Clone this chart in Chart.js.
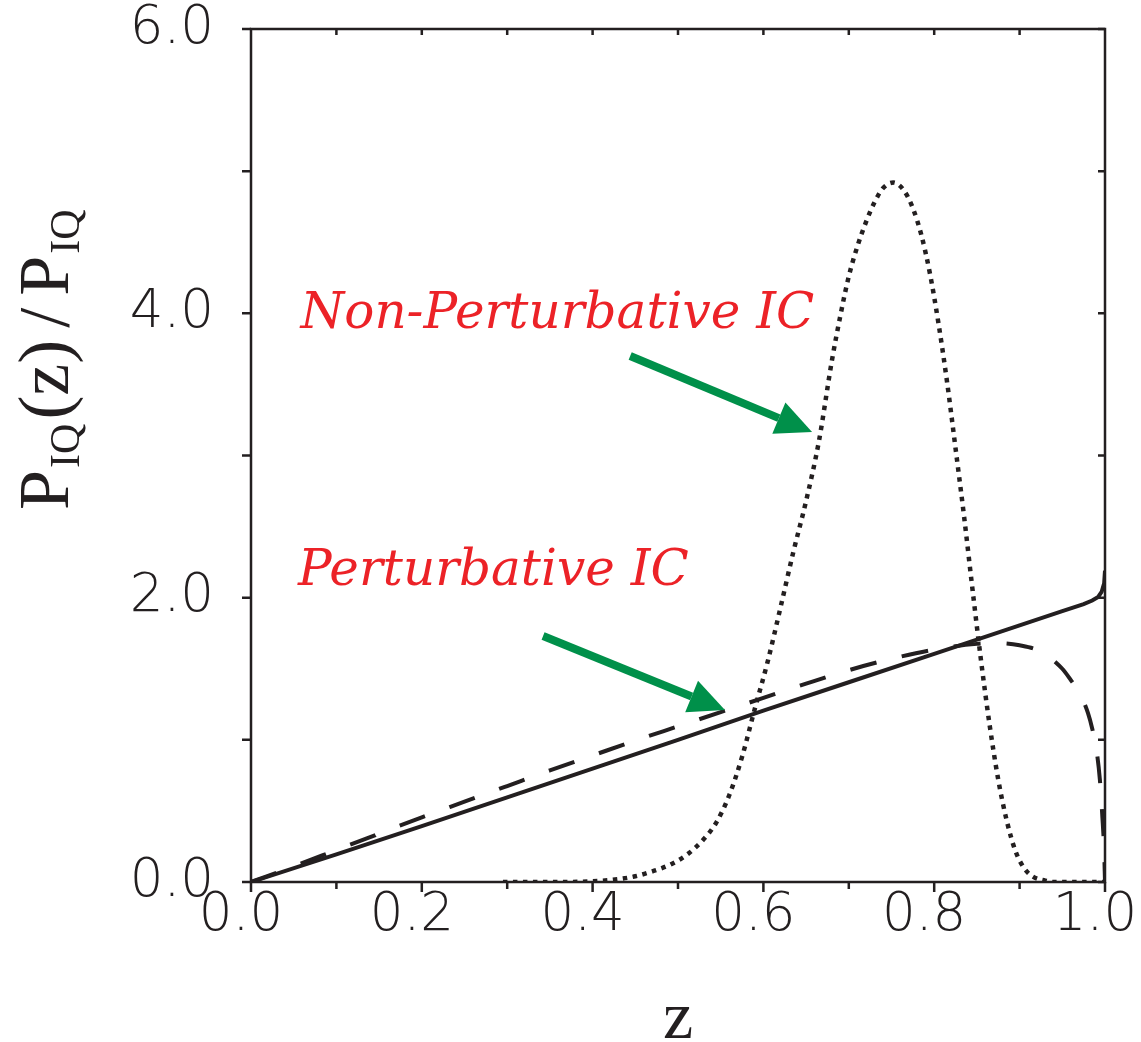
<!DOCTYPE html>
<html>
<head>
<meta charset="utf-8">
<title>P_IQ(z) / P_IQ</title>
<script src="https://cdn.jsdelivr.net/npm/chart.js@4.4.1/dist/chart.umd.min.js"></script>
<style>
    html, body { margin: 0; padding: 0; background: #ffffff; }
    #wrap { position: relative; width: 1141px; height: 1042px; }
    #chart { position: absolute; left: 0; top: 0; }
    .axis-title {
        position: absolute;
        font-family: 'Liberation Serif', 'Times New Roman', serif;
        font-weight: 300;
        font-synthesis: none;
        color: #231f20;
        line-height: 1;
        white-space: nowrap;
    }
    #xTitle { left: 628px; top: 981px; width: 100px; text-align: center; font-size: 68px; }
    #yTitle {
        left: 0; top: 0; font-size: 72px;
        transform-origin: 0 0;
        transform: translate(68px, 510px) rotate(-90deg) translate(0, -60px);
    }
    #yTitle .sub { font-size: 42px; vertical-align: -11px; margin-left: 2px; margin-right: 4px; }
    #yTitle .slash { margin: 0 12px; }
</style>
</head>
<body>
<div id="wrap">
    <canvas id="chart" width="1141" height="1042"></canvas>
    <div id="yTitle" class="axis-title">P<span class="sub">IQ</span>(z)<span class="slash">/</span>P<span class="sub">IQ</span></div>
    <div id="xTitle" class="axis-title">z</div>
</div>
<script>
(function () {
    'use strict';

    // perturbative intrinsic charm: straight rise with a kick at z -> 1
    var solidZ = [0, 0.1, 0.2, 0.3, 0.4, 0.5, 0.6, 0.7, 0.8, 0.9, 0.95, 0.975, 0.985, 0.992, 0.996, 0.999, 1.0];
    var solidP = [0, 0.195, 0.393, 0.595, 0.797, 1.0, 1.205, 1.405, 1.605, 1.805, 1.905, 1.955, 1.98, 2.005, 2.04, 2.10, 2.19];

    // dashed curve, turns over near z ~ 0.87 and drops to zero at z = 1
    var dashedZ = [0, 0.05, 0.1, 0.15, 0.2, 0.25, 0.3, 0.35, 0.4, 0.45, 0.5, 0.55, 0.6, 0.65, 0.7, 0.75, 0.8, 0.85, 0.875,
        0.9, 0.925, 0.95, 0.96, 0.97, 0.98, 0.985, 0.99, 0.994, 0.997, 0.999, 1.0];
    var dashedP = [0, 0.11, 0.225, 0.34, 0.455, 0.565, 0.675, 0.785, 0.89, 0.995, 1.095, 1.195, 1.295, 1.395, 1.49, 1.57, 1.635, 1.675, 1.68,
        1.665, 1.62, 1.50, 1.42, 1.33, 1.19, 1.08, 0.93, 0.72, 0.45, 0.22, 0.0];

    // non-perturbative peak around z ~ 0.75
    var dottedZ = [0.295, 0.35, 0.40, 0.43, 0.45, 0.47, 0.49, 0.51, 0.53, 0.545, 0.56, 0.575, 0.59, 0.605, 0.62, 0.635, 0.65, 0.665,
        0.68, 0.69, 0.70, 0.71, 0.72, 0.73, 0.74, 0.752, 0.765, 0.775, 0.785, 0.795, 0.805, 0.815, 0.825, 0.835, 0.845, 0.855,
        0.865, 0.875, 0.885, 0.895, 0.905, 0.915, 0.93, 0.94, 1.0];
    var dottedP = [0, 0, 0.005, 0.02, 0.04, 0.075, 0.12, 0.19, 0.30, 0.42, 0.61, 0.88, 1.22, 1.55, 1.93, 2.32, 2.68, 3.10,
        3.66, 3.98, 4.26, 4.47, 4.64, 4.78, 4.88, 4.92, 4.86, 4.74, 4.55, 4.28, 3.93, 3.52, 3.05, 2.57, 2.05, 1.55,
        1.10, 0.72, 0.43, 0.22, 0.10, 0.04, 0.01, 0, 0];

    var xMajorTicks = [0, 0.2, 0.4, 0.6, 0.8, 1.0];
    var xMinorTicks = [0.1, 0.3, 0.5, 0.7, 0.9];
    var yMajorTicks = [0, 2, 4, 6];
    var yMinorTicks = [1, 3, 5];

    // text labels with arrows, anchored in data units
    var labelTexts = ['Non-Perturbative IC', 'Perturbative IC'];
    var labelAt = [[0.058, 3.90], [0.055, 2.09]];
    var arrowFrom = [[0.444, 3.70], [0.342, 1.73]];
    var arrowTo = [[0.657, 3.165], [0.555, 1.21]];

    var INK = '#231f20';
    var RED = '#ec2227';
    var GREEN = '#00904a';
    var TICK_FONT = "'DejaVu Sans', sans-serif";

    function pairs(xs, ys) {
        var out = [];
        for (var i = 0; i < xs.length; i++) {
            out.push({ x: xs[i], y: ys[i] });
        }
        return out;
    }

    var framePlugin = {
        id: 'frame',
        afterDatasetsDraw: function (chart) {
            var ctx = chart.ctx;
            var a = chart.chartArea;
            var xs = chart.scales.x;
            var ys = chart.scales.y;
            var i, px, py;

            ctx.save();
            ctx.strokeStyle = INK;
            ctx.lineWidth = 2.5;
            ctx.lineCap = 'butt';
            ctx.strokeRect(a.left, a.top, a.right - a.left, a.bottom - a.top);

            ctx.beginPath();
            // bottom: major and minor ticks pointing out
            for (i = 0; i < xMajorTicks.length; i++) {
                px = xs.getPixelForValue(xMajorTicks[i]);
                ctx.moveTo(px, a.bottom);
                ctx.lineTo(px, a.bottom + 10);
            }
            for (i = 0; i < xMinorTicks.length; i++) {
                px = xs.getPixelForValue(xMinorTicks[i]);
                ctx.moveTo(px, a.bottom);
                ctx.lineTo(px, a.bottom + 7);
            }
            // top: small inward ticks every 0.1
            for (i = 0; i < xMinorTicks.length; i++) {
                px = xs.getPixelForValue(xMinorTicks[i]);
                ctx.moveTo(px, a.top);
                ctx.lineTo(px, a.top + 6);
            }
            for (i = 1; i < xMajorTicks.length - 1; i++) {
                px = xs.getPixelForValue(xMajorTicks[i]);
                ctx.moveTo(px, a.top);
                ctx.lineTo(px, a.top + 6);
            }
            // left: outward ticks, right: inward ticks
            var yAll = yMajorTicks.concat(yMinorTicks);
            for (i = 0; i < yAll.length; i++) {
                py = ys.getPixelForValue(yAll[i]);
                ctx.moveTo(a.left - 9, py);
                ctx.lineTo(a.left, py);
                ctx.moveTo(a.right - 7, py);
                ctx.lineTo(a.right, py);
            }
            ctx.stroke();
            ctx.restore();
        },
        afterDraw: function (chart) {
            var ctx = chart.ctx;
            var xs = chart.scales.x;
            var ys = chart.scales.y;
            var i;

            ctx.save();

            // arrows
            ctx.strokeStyle = GREEN;
            ctx.fillStyle = GREEN;
            for (i = 0; i < arrowFrom.length; i++) {
                var x0 = xs.getPixelForValue(arrowFrom[i][0]);
                var y0 = ys.getPixelForValue(arrowFrom[i][1]);
                var x1 = xs.getPixelForValue(arrowTo[i][0]);
                var y1 = ys.getPixelForValue(arrowTo[i][1]);
                var ang = Math.atan2(y1 - y0, x1 - x0);
                var headLen = 36;
                var headHalf = 17;
                var bx = x1 - headLen * Math.cos(ang);
                var by = y1 - headLen * Math.sin(ang);
                ctx.lineWidth = 8;
                ctx.beginPath();
                ctx.moveTo(x0, y0);
                ctx.lineTo(bx, by);
                ctx.stroke();
                ctx.beginPath();
                ctx.moveTo(x1, y1);
                ctx.lineTo(bx + headHalf * Math.sin(ang), by - headHalf * Math.cos(ang));
                ctx.lineTo(bx - headHalf * Math.sin(ang), by + headHalf * Math.cos(ang));
                ctx.closePath();
                ctx.fill();
            }

            // red curve labels
            ctx.fillStyle = RED;
            ctx.font = "italic 50px 'DejaVu Serif', serif";
            ctx.textAlign = 'left';
            ctx.textBaseline = 'alphabetic';
            for (i = 0; i < labelTexts.length; i++) {
                ctx.fillText(labelTexts[i], xs.getPixelForValue(labelAt[i][0]), ys.getPixelForValue(labelAt[i][1]));
            }
            ctx.restore();
        }
    };

    var canvas = document.getElementById('chart');

    new Chart(canvas, {
        type: 'scatter',
        data: {
            datasets: [{
                label: 'perturbative',
                data: pairs(solidZ, solidP),
                showLine: true,
                borderColor: INK,
                borderWidth: 4,
                pointRadius: 0,
                tension: 0
            }, {
                label: 'dashed',
                data: pairs(dashedZ, dashedP),
                showLine: true,
                borderColor: INK,
                borderWidth: 4,
                borderDash: [27, 26],
                borderCapStyle: 'butt',
                pointRadius: 0,
                cubicInterpolationMode: 'monotone'
            }, {
                label: 'non-perturbative',
                data: pairs(dottedZ, dottedP),
                showLine: true,
                borderColor: INK,
                borderWidth: 4.5,
                borderDash: [4.5, 5.5],
                borderCapStyle: 'butt',
                pointRadius: 0,
                cubicInterpolationMode: 'monotone'
            }]
        },
        options: {
            responsive: false,
            animation: false,
            devicePixelRatio: 1,
            layout: { padding: { left: 0, right: 36, top: 29, bottom: 0 } },
            plugins: {
                legend: { display: false },
                tooltip: { enabled: false }
            },
            scales: {
                x: {
                    type: 'linear',
                    min: 0,
                    max: 1,
                    grid: { display: false, drawTicks: false },
                    border: { display: false },
                    afterBuildTicks: function (scale) {
                        scale.ticks = xMajorTicks.map(function (v) { return { value: v }; });
                    },
                    afterFit: function (scale) {
                        scale.height = 160;
                        scale.paddingLeft = 0;
                        scale.paddingRight = 0;
                    },
                    ticks: {
                        autoSkip: false,
                        maxRotation: 0,
                        padding: 2,
                        labelOffset: -10,
                        color: INK,
                        font: { family: TICK_FONT, size: 53, weight: '200' },
                        callback: function (v) { return Number(v).toFixed(1); }
                    }
                },
                y: {
                    type: 'linear',
                    min: 0,
                    max: 6,
                    grid: { display: false, drawTicks: false },
                    border: { display: false },
                    afterBuildTicks: function (scale) {
                        scale.ticks = yMajorTicks.map(function (v) { return { value: v }; });
                    },
                    afterFit: function (scale) {
                        scale.width = 251;
                        scale.paddingTop = 0;
                        scale.paddingBottom = 0;
                    },
                    ticks: {
                        autoSkip: false,
                        padding: 37,
                        color: INK,
                        font: { family: TICK_FONT, size: 53, weight: '200' },
                        callback: function (v) { return Number(v).toFixed(1); }
                    }
                }
            }
        },
        plugins: [framePlugin]
    });
})();
</script>
</body>
</html>
